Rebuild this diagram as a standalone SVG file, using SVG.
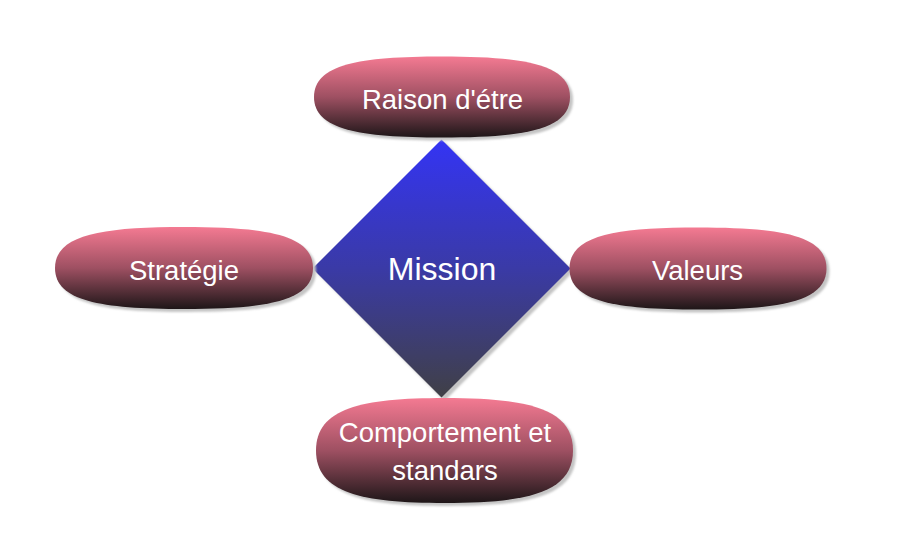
<svg xmlns="http://www.w3.org/2000/svg" width="901" height="550" viewBox="0 0 901 550">
<style>
.lbl{font-family:"Liberation Sans",Arial,sans-serif;font-size:27.5px;fill:#ffffff;text-anchor:middle}
.main{font-family:"Liberation Sans",Arial,sans-serif;font-size:32px;fill:#ffffff;text-anchor:middle}
.shadow{fill:#c4c4c4}
.oval{fill:url(#pinkGrad)}
</style>
<defs>
<linearGradient id="pinkGrad" x1="0" y1="0" x2="0" y2="1">
<stop offset="0" stop-color="#f47a92"/>
<stop offset="0.5" stop-color="#9e5062"/>
<stop offset="1" stop-color="#1e1618"/>
</linearGradient>
<linearGradient id="blueGrad" x1="0" y1="0" x2="0" y2="1">
<stop offset="0" stop-color="#3434f4"/>
<stop offset="0.5" stop-color="#3a3aa6"/>
<stop offset="1" stop-color="#404046"/>
</linearGradient>
<filter id="blur" x="-10%" y="-10%" width="120%" height="120%">
<feGaussianBlur stdDeviation="1.2"/>
</filter>
<path id="shTop" d="M314,97 C314,64.6 358.8,56.5 442,56.5 C525.2,56.5 570,64.6 570,97 C570,129.4 525.2,137.5 442,137.5 C358.8,137.5 314,129.4 314,97 Z"/>
<path id="shLeft" d="M55,268 C55,235.2 100.15,227 184,227 C267.85,227 313,235.2 313,268 C313,300.8 267.85,309 184,309 C100.15,309 55,300.8 55,268 Z"/>
<path id="shRight" d="M569.5,268.5 C569.5,235.7 614.47,227.5 698,227.5 C781.53,227.5 826.5,235.7 826.5,268.5 C826.5,301.3 781.53,309.5 698,309.5 C614.47,309.5 569.5,301.3 569.5,268.5 Z"/>
<path id="shBottom" d="M316,450.5 C316,408.5 360.97,398 444.5,398 C528.03,398 573,408.5 573,450.5 C573,492.5 528.03,503 444.5,503 C360.97,503 316,492.5 316,450.5 Z"/>
</defs>
<rect width="901" height="550" fill="#ffffff"/>
<g id="connectors"></g>
<g id="mission">
<polygon class="shadow" filter="url(#blur)" points="444.5,142 573.5,271.5 444.5,401 315.5,271.5"/>
<polygon fill="url(#blueGrad)" points="441.5,139.5 570.5,268.5 441.5,397.5 312.5,268.5"/>
<text class="main" x="442" y="280">Mission</text>
</g>
<g id="raison">
<use href="#shTop" class="shadow" filter="url(#blur)" transform="translate(3,3)"/>
<use href="#shTop" class="oval"/>
<text class="lbl" x="442.5" y="109">Raison d'étre</text>
</g>
<g id="strategie">
<use href="#shLeft" class="shadow" filter="url(#blur)" transform="translate(3,3)"/>
<use href="#shLeft" class="oval"/>
<text class="lbl" x="184" y="280">Stratégie</text>
</g>
<g id="valeurs">
<use href="#shRight" class="shadow" filter="url(#blur)" transform="translate(3,3)"/>
<use href="#shRight" class="oval"/>
<text class="lbl" x="697.5" y="280">Valeurs</text>
</g>
<g id="comportement">
<use href="#shBottom" class="shadow" filter="url(#blur)" transform="translate(3,3)"/>
<use href="#shBottom" class="oval"/>
<text class="lbl" x="445" y="442">Comportement et</text>
<text class="lbl" x="445" y="480">standars</text>
</g>
</svg>
